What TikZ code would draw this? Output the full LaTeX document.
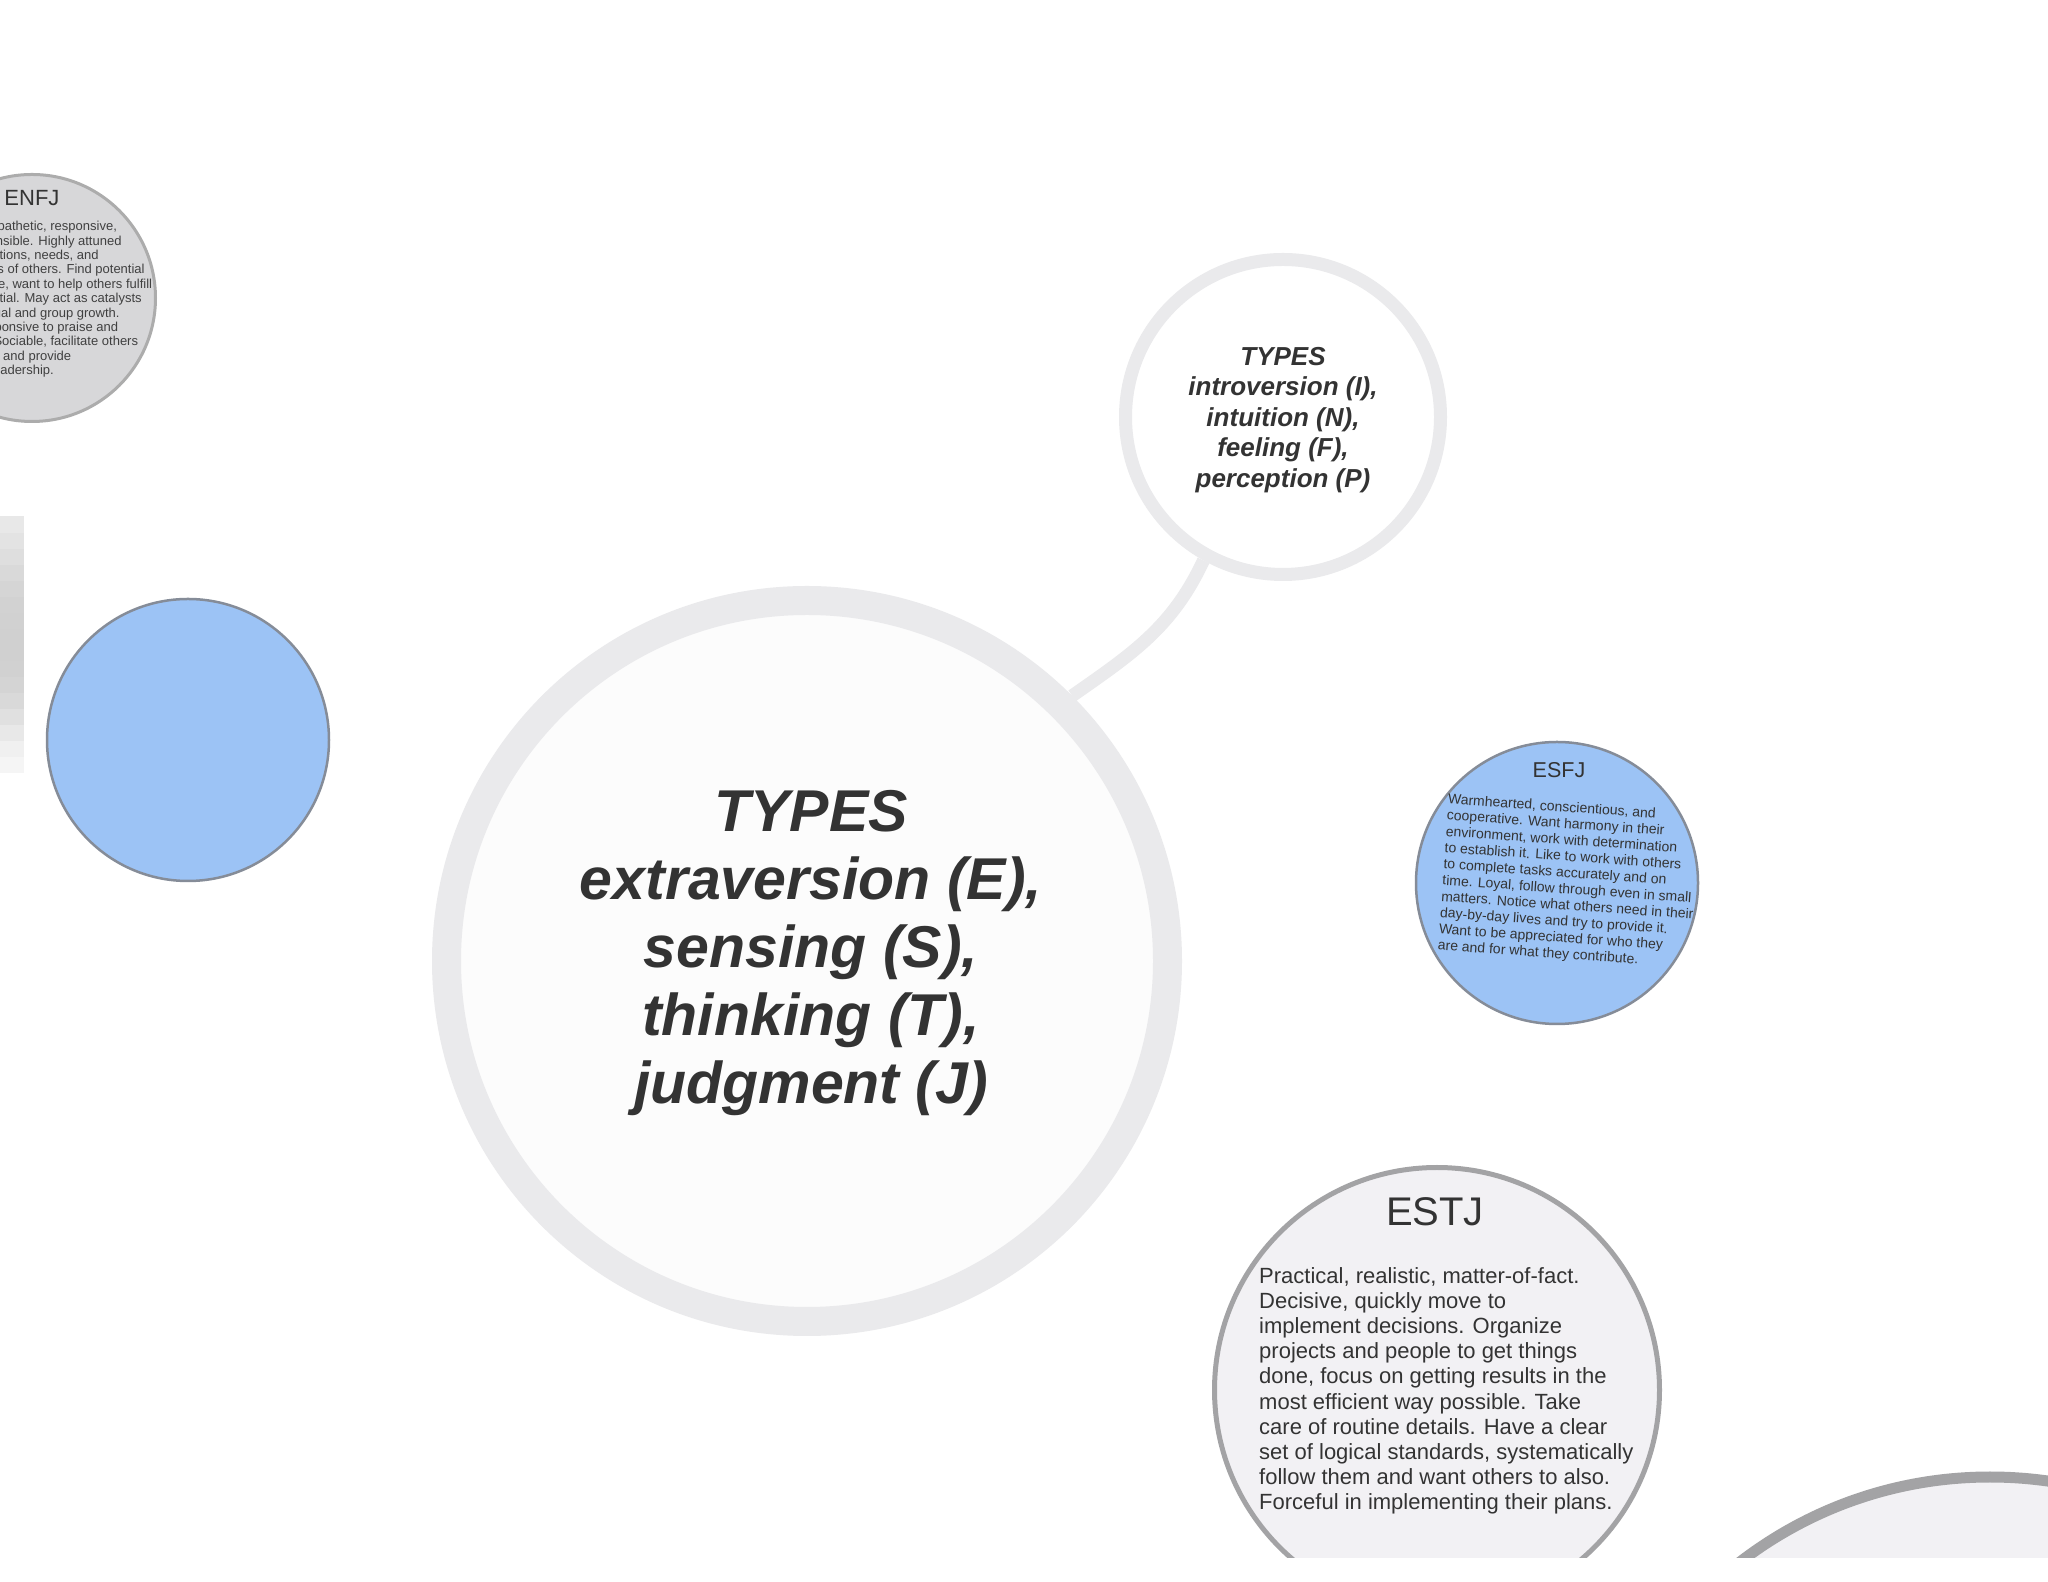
\documentclass[tikz,border=0pt]{standalone}
\usepackage{fontspec}
\setmainfont{Liberation Sans}
\usepackage{xcolor}
\usepackage{tikz}
\usetikzlibrary{positioning}

\definecolor{ringgray}{HTML}{EAEAEC}
\definecolor{inkgray}{HTML}{333333}
\definecolor{bubblegray}{HTML}{F2F1F4}
\definecolor{edgegray}{HTML}{A3A3A5}
\definecolor{skyblue}{HTML}{9CC3F5}
\definecolor{blueedge}{HTML}{858C98}
\definecolor{enfjgray}{HTML}{D7D7D9}

\begin{document}
\begin{tikzpicture}[x=1pt, y=1pt,
    ring/.style={draw=ringgray, circle, inner sep=0pt},
    bubble/.style={circle, inner sep=0pt},
    link/.style={draw=ringgray, line width=13pt},
    typesfont/.style={text=inkgray, align=center},
    blurb/.style={text=inkgray, align=left, inner sep=0pt}]

        \useasboundingbox (0,0) rectangle (2048,1582);
        \fill [white] (0,0) rectangle (2048,1582);
        \clip (0,24) rectangle (2048,1582);

        \foreach \p/\y in {8/809, 12/825, 18/841, 24/857, 30/873, 34/889, 36/905, 37/921, 37/937, 36/953, 35/969, 33/985, 30/1001, 26/1017, 22/1033, 18/1049}
            \fill [gray!\p] (0,\y) rectangle (24,\y+16.5);

        \node (main) [ring, line width=29pt, fill=gray!2, minimum size=721pt] at (807,621) {};
        \node (typesI) [ring, line width=13pt, fill=white, minimum size=315pt] at (1283,1165) {};

        \node (maintext) [typesfont, font=\fontsize{59}{68}\selectfont\bfseries\itshape] at ([xshift=4pt, yshift=8pt] main.center) {TYPES\\ extraversion (E),\\ sensing (S),\\ thinking (T),\\ judgment (J)};
        \node (typesItext) [typesfont, font=\fontsize{26}{30.5}\selectfont\bfseries\itshape] at ([yshift=-3pt] typesI.center) {TYPES\\ introversion (I),\\ intuition (N),\\ feeling (F),\\ perception (P)};

        \node (enfj) [bubble, draw=gray!65, fill=enfjgray, line width=3pt, minimum size=247pt] at (32,1284) {};
        \node (enfjtitle) [font=\fontsize{22}{25}\selectfont, text=inkgray] at ([yshift=100pt] enfj.center) {ENFJ};
        \node (enfjtext) [blurb, anchor=north west, text=black!75, font=\fontsize{13}{14.4}\selectfont] at (-62,1361) {Warm, empathetic, responsive,\\ and responsible. Highly attuned\\ to the emotions, needs, and\\ motivations of others. Find potential\\ in everyone, want to help others fulfill\\ their potential. May act as catalysts\\ for individual and group growth.\\ Loyal, responsive to praise and\\ criticism. Sociable, facilitate others\\ in a group, and provide\\ inspiring leadership.};

        \node (blank) [bubble, draw=blueedge, fill=skyblue, line width=2.5pt, minimum size=282pt] at (188,842) {};

        \node (esfj) [bubble, draw=blueedge, fill=skyblue, line width=2.5pt, minimum size=282pt] at (1557,699) {};
        \node (esfjtitle) [font=\fontsize{21.5}{24}\selectfont, text=inkgray] at ([xshift=2pt, yshift=113pt] esfj.center) {ESFJ};
        \node (esfjtext) [blurb, rotate=-4, font=\fontsize{14}{16.3}\selectfont] at ([xshift=12pt, yshift=1pt] esfj.center) {Warmhearted, conscientious, and\\ cooperative. Want harmony in their\\ environment, work with determination\\ to establish it. Like to work with others\\ to complete tasks accurately and on\\ time. Loyal, follow through even in small\\ matters. Notice what others need in their\\ day-by-day lives and try to provide it.\\ Want to be appreciated for who they\\ are and for what they contribute.};

        \node (estj) [bubble, draw=edgegray, fill=bubblegray, line width=5pt, minimum size=445pt] at (1437,192) {};
        \node (estjtitle) [font=\fontsize{40}{44}\selectfont, text=inkgray] at (1435,370) {ESTJ};
        \node (estjtext) [blurb, anchor=north west, font=\fontsize{22}{25.2}\selectfont] at (1259,315) {Practical, realistic, matter-of-fact.\\ Decisive, quickly move to\\ implement decisions. Organize\\ projects and people to get things\\ done, focus on getting results in the\\ most efficient way possible. Take\\ care of routine details. Have a clear\\ set of logical standards, systematically\\ follow them and want others to also.\\ Forceful in implementing their plans.};

        \node (corner) [bubble, draw=edgegray, fill=bubblegray, line width=11pt, minimum size=820pt] at (1990,-305) {};

        \draw [link] (typesI.241) to [out=245, in=35] (main.45);
\end{tikzpicture}
\end{document}
